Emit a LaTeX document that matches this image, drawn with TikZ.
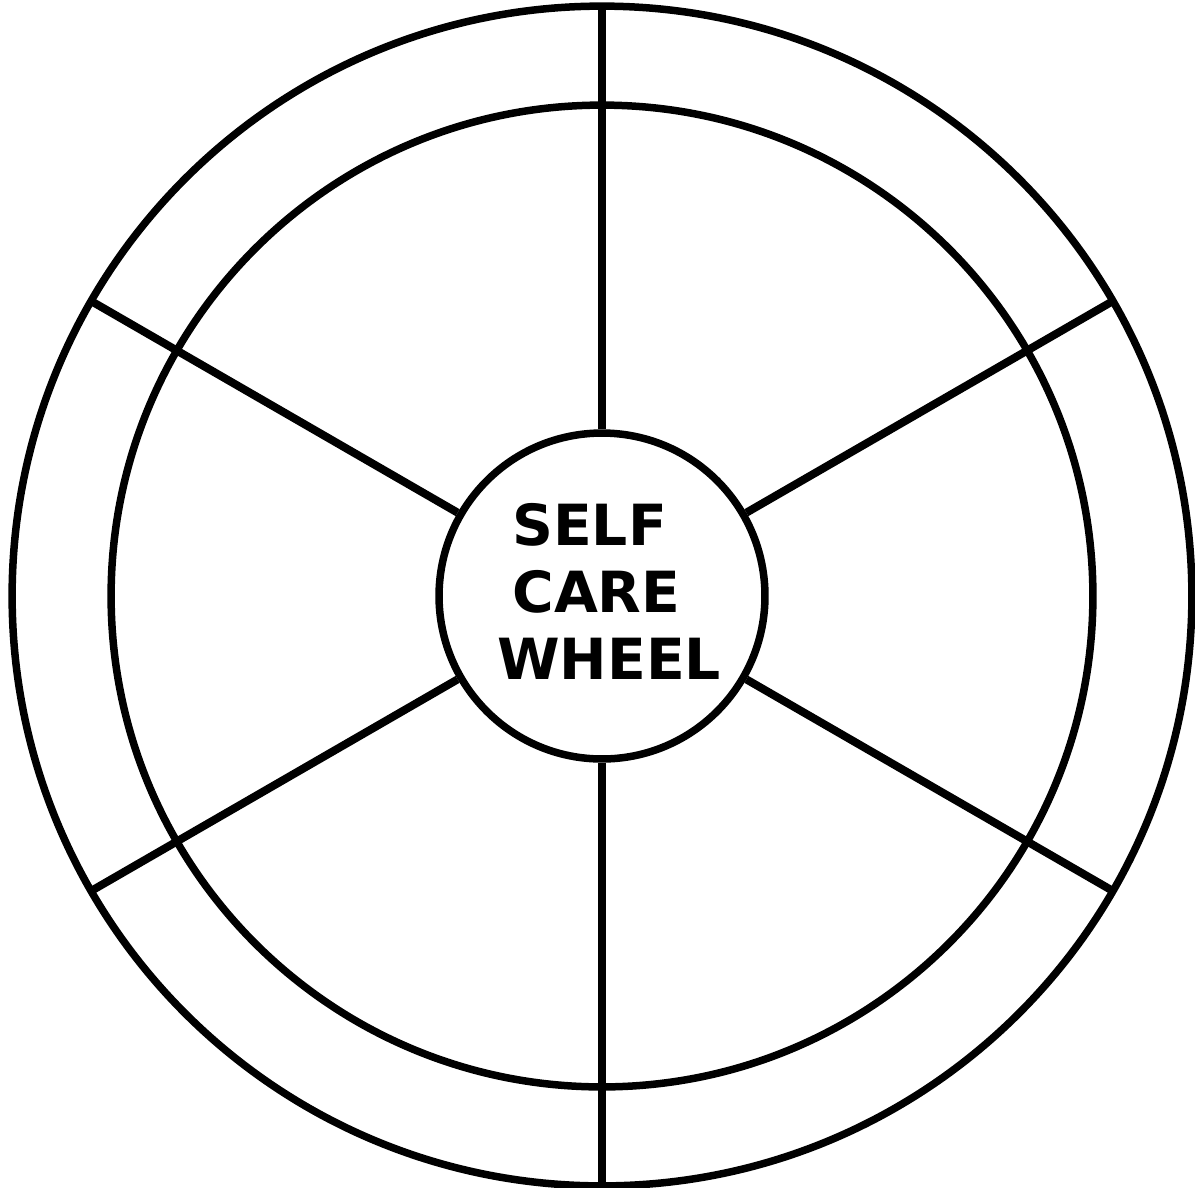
\documentclass[tikz,border=0pt]{standalone}
\usepackage{fontspec}
\setmainfont{DejaVu Sans}
\usetikzlibrary{calc}
\begin{document}
\begin{tikzpicture}[x=0.02cm,y=-0.02cm,
  ring/.style={line width=0.15cm,draw=black},
  spoke/.style={line width=0.16cm,draw=black},
  hubstyle/.style={circle,draw=black,line width=0.15cm,minimum size=6.52cm,inner sep=0pt},
  label/.style={anchor=base west,inner sep=0pt,font=\bfseries\fontsize{32.3}{38}\selectfont}]
\useasboundingbox (0,0) rectangle (1195,1187);
\coordinate (c) at (602,596);
\draw[ring] (c) circle (9.82cm);
\node[hubstyle] (hub) at (c) {};
\foreach \a in {90,150,210,270,330,30}{
  \coordinate (o\a) at ($(c)+(\a:11.8cm)$);
}
\foreach \a in {90,150,210,270,330,30}{
  \draw[spoke] (hub.\a) -- (o\a);
}
\draw[ring] (c) circle (11.8cm);
\node[label] (t1) at (512,545) {SELF};
\node[label] (t2) at (512,612) {CARE};
\node[label] (t3) at (497,679) {WHEEL};
\end{tikzpicture}
\end{document}
